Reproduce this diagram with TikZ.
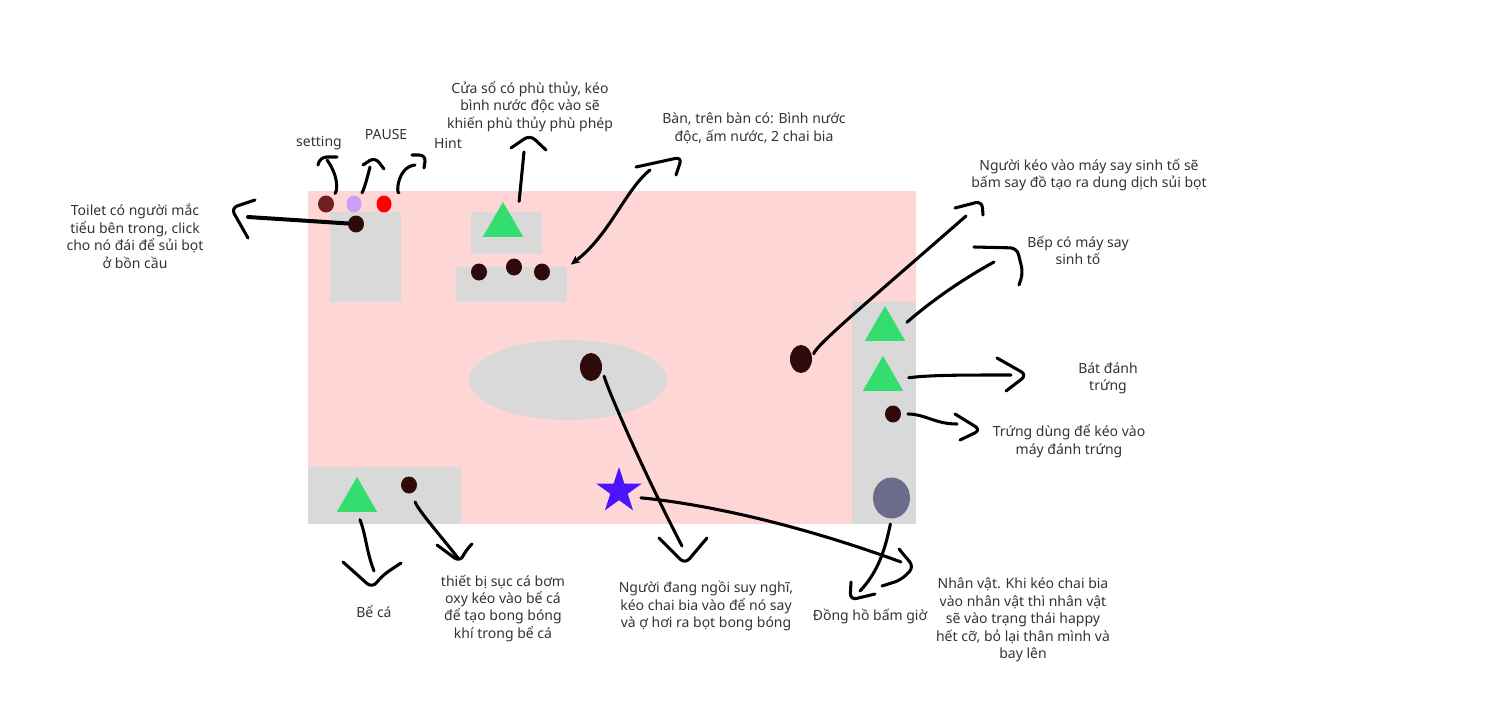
\documentclass[tikz,border=0pt]{standalone}
\usepackage{fontspec}
\setmainfont{Noto Sans}
\usetikzlibrary{arrows.meta,shapes.geometric}
\definecolor{floorpink}{HTML}{FFD6D6}
\definecolor{roomgray}{HTML}{D9D9D9}
\definecolor{propgreen}{HTML}{33DE6E}
\definecolor{propdark}{HTML}{2E0A0A}
\definecolor{btnbrown}{HTML}{6E1F1F}
\definecolor{btnlilac}{HTML}{C9A0F5}
\definecolor{heroblue}{HTML}{4A14FF}
\definecolor{clockgray}{HTML}{6B6B8A}
\definecolor{notegray}{HTML}{333333}
\tikzset{
  room_G/.style = {rectangle, inner sep=0pt, anchor=north west, fill=roomgray},
  % props: triangles and dark dots
  prop_T/.style = {regular polygon, regular polygon sides=3, inner sep=0pt, minimum size=35pt, fill=propgreen},
  prop_D/.style = {ellipse, inner sep=0pt, minimum width=12pt, minimum height=12.75pt, fill=propdark},
  prop_L/.style = {prop_D, minimum width=16.5pt, minimum height=21pt},
  note_N/.style = {align=center, inner sep=0pt, yshift=-0.9pt, text=notegray, font=\fontsize{10.5}{13.1}\selectfont},
  pen_B/.style = {black, line width=2.3pt, line cap=round, line join=round},
  head_B/.style = {pen_B, rounded corners=5pt}
}

\begin{document}
\begin{tikzpicture}[x=0.75pt,y=-0.75pt]
    \useasboundingbox (0,0) rectangle (1504,725);
    % Floor and rooms:
    \node [room_G, fill=floorpink, minimum width=456pt, minimum height=249.75pt] (floor_main) at (308,191) {};
    \node [room_G, minimum width=53.25pt, minimum height=67.5pt] (room_toilet) at (330,212) {};
    \node [room_G, minimum width=53.25pt, minimum height=31.5pt] (room_window) at (471,212) {};
    \node [room_G, minimum width=83.25pt, minimum height=26.25pt] (room_table) at (456,267) {};
    \node [room_G, minimum width=48pt, minimum height=166.5pt] (room_kitchen) at (852,302) {};
    \node [room_G, minimum width=114.75pt, minimum height=42.75pt] (room_tank) at (308,467) {};
    \node [ellipse, inner sep=0pt, fill=roomgray, minimum width=148.5pt, minimum height=60pt] (room_rug) at (568,380) {};
    % Buttons:
    \node [prop_D, fill=btnbrown] (btn_setting) at (326,204) {};
    \node [prop_D, fill=btnlilac, minimum width=11.25pt] (btn_pause) at (354,204) {};
    \node [prop_D, fill=red, minimum width=11.25pt] (btn_hint) at (384,204) {};
    % Props:
    \node [prop_D] (dot_toilet) at (356,224) {};
    \node [prop_T] (tri_window) at (503,225.3) {};
    \node [prop_D] (dot_bottle_a) at (479,272) {};
    \node [prop_D] (dot_bottle_b) at (514,267) {};
    \node [prop_D] (dot_bottle_c) at (542,272) {};
    \node [prop_L] (dot_think) at (591,367) {};
    \node [prop_L] (dot_person) at (801,359) {};
    \node [prop_T] (tri_blender) at (885,329.3) {};
    \node [prop_T] (tri_bowl) at (883,379.3) {};
    \node [prop_D] (dot_egg) at (893,414) {};
    \node [ellipse, inner sep=0pt, fill=clockgray, minimum width=27.75pt, minimum height=30.75pt] (clock_timer) at (891.5,498) {};
    \node [prop_T] (tri_tank) at (357,500.3) {};
    \node [prop_D] (dot_pump) at (409,485) {};
    \node [star, star points=5, star point ratio=2.618, inner sep=0pt, minimum size=36pt, fill=heroblue] (star_hero) at (619,491) {};
    % Notes:
    \node [note_N] (note_setting) at (319,142) {setting};
    \node [note_N] (note_pause) at (386,133) {PAUSE};
    \node [note_N] (note_hint) at (448,142) {Hint};
    \node [note_N] (note_toilet) at (135,235) {Toilet có người mắc\\tiểu bên trong, click\\cho nó đái để sủi bọt\\ở bồn cầu};
    \node [note_N] (note_window) at (530,105) {Cửa sổ có phù thủy, kéo\\bình nước độc vào sẽ\\khiến phù thủy phù phép};
    \node [note_N] (note_table) at (754,127) {Bàn, trên bàn có: Bình nước\\độc, ấm nước, 2 chai bia};
    \node [note_N] (note_person) at (1089,174) {Người kéo vào máy say sinh tố sẽ\\bấm say đồ tạo ra dung dịch sủi bọt};
    \node [note_N] (note_blender) at (1078,249) {Bếp có máy say\\sinh tố};
    \node [note_N] (note_bowl) at (1108,377) {Bát đánh\\trứng};
    \node [note_N] (note_egg) at (1069,440) {Trứng dùng để kéo vào\\máy đánh trứng};
    \node [note_N] (note_tank) at (374,610) {Bể cá};
    \node [note_N] (note_pump) at (503,607) {thiết bị sục cá bơm\\oxy kéo vào bể cá\\để tạo bong bóng\\khí trong bể cá};
    \node [note_N] (note_think) at (706,605) {Người đang ngồi suy nghĩ,\\kéo chai bia vào để nó say\\và ợ hơi ra bọt bong bóng};
    \node [note_N] (note_clock) at (870,615) {Đồng hồ bấm giờ};
    \node [note_N] (note_hero) at (1023,619) {Nhân vật. Khi kéo chai bia\\vào nhân vật thì nhân vật\\sẽ vào trạng thái happy\\hết cỡ, bỏ lại thân mình và\\bay lên};
    % Free ends of the connectors:
    \coordinate (tip_setting) at (327,160);
    \coordinate (tip_pause) at (370,167);
    \coordinate (tip_hint) at (415,165);
    \coordinate (tip_toilet) at (248,217);
    \coordinate (tip_window) at (524,152);
    \coordinate (tip_table) at (650,170);
    \coordinate (tip_person) at (966,216);
    \coordinate (tip_blender) at (994,262);
    \coordinate (tip_bowl) at (1011,375);
    \coordinate (tip_egg) at (957,424);
    \coordinate (tip_tank) at (374,571);
    \coordinate (tip_pump) at (458,558);
    \coordinate (tip_think) at (682,546);
    \coordinate (tip_hero) at (901,562);
    \coordinate (tip_clock) at (860,591);
    % Shafts:
    \draw [pen_B, shorten <=4pt] (btn_setting) .. controls (338,190) and (338,175) .. (tip_setting);
    \draw [pen_B, shorten <=4pt] (btn_pause) .. controls (364,190) and (368,175) .. (tip_pause);
    \draw [pen_B, shorten <=8pt] (btn_hint) .. controls (396,195) and (397,167) .. (tip_hint);
    \draw [pen_B, line width=3pt] (dot_toilet) -- (tip_toilet);
    \draw [pen_B, shorten <=18pt] (tri_window.east) -- (tip_window);
    \draw [pen_B, -{Stealth[length=7pt,width=6pt]}, shorten >=3pt] (tip_table) .. controls (625,190) and (610,235) .. (room_table.north east);
    \draw [pen_B, shorten <=4pt] (dot_person.east) .. controls (816,345) and (870,300) .. (tip_person);
    \draw [pen_B, shorten <=8pt] (tri_blender.east) .. controls (935,298) and (965,278) .. (tip_blender);
    \draw [pen_B, shorten <=9pt] (tri_bowl.east) .. controls (930,375) and (960,375) .. (tip_bowl);
    \draw [pen_B, shorten <=5pt] (dot_egg.east) .. controls (925,414) and (935,424) .. (tip_egg);
    \draw [pen_B, shorten <=6pt] (tri_tank.south) .. controls (366,535) and (366,550) .. (tip_tank);
    \draw [pen_B, shorten <=7pt] (dot_pump) .. controls (418,510) and (440,535) .. (tip_pump);
    \draw [pen_B, shorten <=7pt] (dot_think.east) .. controls (606,385) and (640,465) .. (tip_think);
    \draw [pen_B, shorten <=9pt] (star_hero.-30) .. controls (675,501) and (770,514) .. (tip_hero);
    \draw [pen_B, shorten <=4pt] (clock_timer.south) .. controls (885,550) and (878,572) .. (tip_clock);
    % Hand drawn heads:
    \draw [head_B] (318,165) -- (320,157) -- (337,157);
    \draw [head_B] (363,165) -- (375,157) -- (384,169);
    \draw [head_B] (412,155) -- (426,155) -- (424,168);
    \draw [head_B] (255,200) -- (231,208) -- (248,238);
    \draw [head_B] (511,148) -- (530,135) -- (546,150);
    \draw [head_B] (636,167) -- (682,157) -- (676,175);
    \draw [head_B] (955,208) -- (982,201) -- (983,215);
    \draw [head_B] (974,247) -- (1017,248) -- (1023,273) -- (1019,285);
    \draw [head_B] (997,358) -- (1027,375) -- (1006,391);
    \draw [head_B] (955,414) -- (981,430) -- (960,440);
    \draw [head_B] (343,562) -- (372,588) -- (383,575) -- (401,563);
    \draw [head_B] (437,545) -- (460,562) -- (466,550) -- (472,544);
    \draw [head_B] (659,538) -- (685,564) -- (707,538);
    \draw [head_B] (899,549) -- (914,567) -- (901,580) -- (882,586);
    \draw [head_B] (851,582) -- (850,600) -- (875,594);
\end{tikzpicture}
\end{document}
